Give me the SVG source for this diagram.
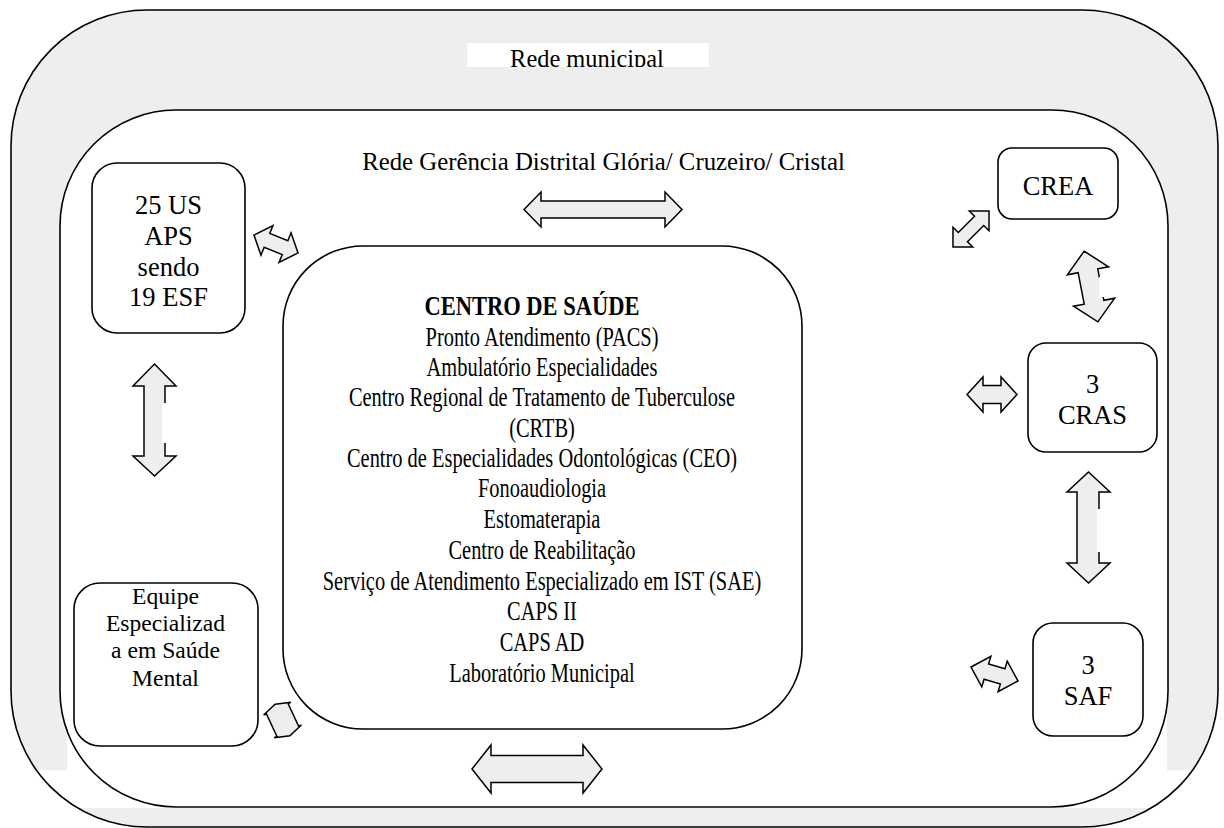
<svg xmlns="http://www.w3.org/2000/svg" width="1224" height="828" viewBox="0 0 1224 828">
<style>
.frame{stroke:#000;stroke-width:1.6;}
.box{fill:#fff;stroke:#000;stroke-width:1.6;}
.arr{fill:#eeeeee;stroke:#000;stroke-width:1.5;stroke-linejoin:miter;}
text{font-family:"Liberation Serif","Times New Roman",serif;fill:#000;text-anchor:middle;}
.t26{font-size:26.5px;}
.t24{font-size:23.6px;}
.ctr{font-size:26.6px;}
</style>
<defs>
<clipPath id="clipRM"><rect x="467" y="43" width="242" height="24"/></clipPath>
</defs>
<rect width="1224" height="828" fill="#fff"/>

<g id="rede-municipal">
<rect x="11" y="10" width="1207" height="817" rx="136" ry="136" fill="#eeeeee"/>
<rect x="67" y="600" width="1100" height="170" fill="#fff"/>
<rect x="25" y="770" width="1182" height="38" fill="#fff"/>
<rect class="frame" x="11" y="10" width="1207" height="817" rx="136" ry="136" fill="none"/>
<rect x="467" y="43" width="242" height="24" fill="#fff"/>
<text x="587" y="66.5" style="font-size:24.4px" clip-path="url(#clipRM)">Rede municipal</text>
</g>

<g id="rede-gerencia">
<rect class="frame" x="60" y="110" width="1108" height="697" rx="116" ry="116" fill="#fff"/>
<text x="603.5" y="170" style="font-size:24.8px">Rede Gerência Distrital Glória/ Cruzeiro/ Cristal</text>
</g>

<g id="aps">
<rect class="box" x="92" y="163" width="153" height="170" rx="25" ry="25"/>
<text class="t26" x="168.5" y="214">25 US</text>
<text class="t26" x="168.5" y="245">APS</text>
<text class="t26" x="168.5" y="276">sendo</text>
<text class="t26" x="168.5" y="306">19 ESF</text>
</g>

<g id="equipe">
<rect class="box" x="74" y="583" width="184" height="163" rx="26" ry="26"/>
<text class="t24" x="165.5" y="604">Equipe</text>
<text class="t24" x="165.5" y="631">Especializad</text>
<text class="t24" x="165.5" y="658">a em Saúde</text>
<text class="t24" x="165.5" y="686">Mental</text>
</g>

<g id="centro-saude">
<rect class="box" x="283" y="246" width="519" height="483" rx="80" ry="80"/>
<text x="532" y="315" class="ctr" font-weight="bold" textLength="215" lengthAdjust="spacingAndGlyphs">CENTRO DE SAÚDE</text>
<g transform="translate(542 0) scale(0.768 1)">
<text class="ctr" x="0" y="345.6">Pronto Atendimento (PACS)</text>
<text class="ctr" x="0" y="375.8">Ambulatório Especialidades</text>
<text class="ctr" x="0" y="406.2">Centro Regional de Tratamento de Tuberculose</text>
<text class="ctr" x="0" y="436.6">(CRTB)</text>
<text class="ctr" x="0" y="467">Centro de Especialidades Odontológicas (CEO)</text>
<text class="ctr" x="0" y="497.5">Fonoaudiologia</text>
<text class="ctr" x="0" y="528">Estomaterapia</text>
<text class="ctr" x="0" y="559">Centro de Reabilitação</text>
<text class="ctr" x="0" y="590">Serviço de Atendimento Especializado em IST (SAE)</text>
<text class="ctr" x="0" y="620.5">CAPS II</text>
<text class="ctr" x="0" y="651">CAPS AD</text>
<text class="ctr" x="0" y="682">Laboratório Municipal</text>
</g>
</g>

<g id="crea">
<rect class="box" x="998" y="148" width="120" height="71" rx="14" ry="14"/>
<text class="t26" x="1058" y="195">CREA</text>
</g>

<g id="cras">
<rect class="box" x="1028" y="343" width="129" height="109" rx="18" ry="18"/>
<text class="t26" x="1092.5" y="393">3</text>
<text class="t26" x="1092.5" y="424">CRAS</text>
</g>

<g id="saf">
<rect class="box" x="1033" y="623" width="110" height="113" rx="20" ry="20"/>
<text class="t26" x="1088" y="674">3</text>
<text class="t26" x="1088" y="705">SAF</text>
</g>

<g id="connectors">
<path class="arr" d="M524 209.5 L541 192 L541 201 L665 201 L665 192 L682 209.5 L665 227 L665 218 L541 218 L541 227 Z"/>
<path class="arr" d="M472 769 L491 745 L491 755.5 L583 755.5 L583 745 L602 769 L583 793 L583 782.5 L491 782.5 L491 793 Z"/>
<path class="arr" d="M154.5 364 L176 386 L165 386 L165 456 L176 456 L154.5 476 L133 456 L144 456 L144 386 L133 386 Z"/>
<rect x="162" y="403" width="6" height="40" fill="#fff"/>
<path class="arr" d="M1088.5 472 L1110 492 L1099 492 L1099 563 L1110 563 L1088.5 583 L1067 563 L1077 563 L1077 492 L1067 492 Z"/>
<rect x="1097" y="509" width="6" height="43" fill="#fff"/>
<path class="arr" d="M967 394.5 L983 377 L983 385.5 L1001 385.5 L1001 377 L1017 394.5 L1001 412 L1001 403.5 L983 403.5 L983 412 Z"/>
<path class="arr" transform="translate(1091 286.5) rotate(-11)" d="M0 -36 L21 -16 L10 -16 L10 16 L21 16 L0 36 L-21 16 L-10 16 L-10 -16 L-21 -16 Z"/>
<rect x="1099" y="277" width="10" height="20" fill="#fff"/>
<path class="arr" transform="translate(276 244) rotate(22)" d="M-23.75 0 L-9.75 -16 L-9.75 -7.5 L9.75 -7.5 L9.75 -16 L23.75 0 L9.75 16 L9.75 7.5 L-9.75 7.5 L-9.75 16 Z"/>
<path class="arr" transform="translate(971 229) rotate(-45)" d="M-25.5 0 L-11.5 -14 L-11.5 -6.5 L11.5 -6.5 L11.5 -14 L25.5 0 L11.5 14 L11.5 6.5 L-11.5 6.5 L-11.5 14 Z"/>
<path class="arr" transform="translate(282.5 720) rotate(-25)" d="M0 -17.5 L15 -12.5 L12 -12.5 L12 12.5 L15 12.5 L0 17.5 L-15 12.5 L-12 12.5 L-12 -12.5 L-15 -12.5 Z"/>
<path class="arr" transform="translate(994.5 674) rotate(16.6)" d="M-24.5 0 L-8.5 -16 L-8.5 -8 L8.5 -8 L8.5 -16 L24.5 0 L8.5 16 L8.5 8 L-8.5 8 L-8.5 16 Z"/>
</g>
</svg>
